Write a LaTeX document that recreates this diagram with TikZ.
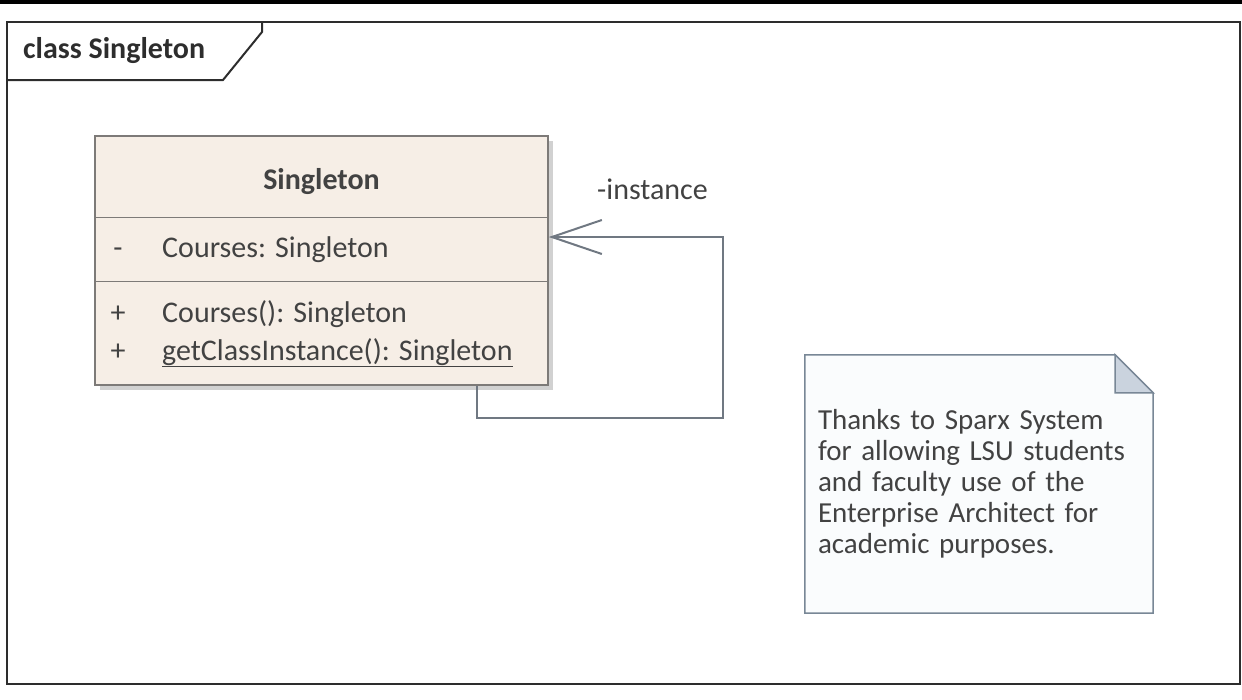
\documentclass[tikz,border=0pt]{standalone}
\usepackage{fontspec}
\setmainfont{Carlito}
\usetikzlibrary{arrows.meta, positioning, calc, shadows, backgrounds}
\definecolor{framegray}{RGB}{45,45,45}
\definecolor{classfill}{RGB}{246,238,230}
\definecolor{classline}{RGB}{125,122,120}
\definecolor{textgray}{RGB}{66,66,66}
\definecolor{linkgray}{RGB}{112,120,130}
\definecolor{notefill}{RGB}{250,252,253}
\definecolor{noteline}{RGB}{120,135,150}
\definecolor{foldfill}{RGB}{202,211,222}
\tikzset{
    framebox/.style={rectangle, draw=framegray, line width=2pt, inner sep=0pt},
    frameline/.style={draw=framegray, line width=2pt},
    title/.style={inner sep=0pt, text=framegray, font=\fontsize{30}{36}\selectfont\bfseries},
    classbox/.style={rectangle, draw=classline, fill=classfill, line width=1.5pt, inner sep=0pt, minimum width=453pt, minimum height=249pt, drop shadow={shadow xshift=5pt, shadow yshift=-5pt, fill=black, opacity=.18}},
    classsep/.style={draw=classline, line width=1.5pt},
    classname/.style={inner sep=0pt, text=textgray, font=\fontsize{30}{36}\selectfont\bfseries},
    member/.style={anchor=base west, inner sep=0pt, text=textgray, font=\fontsize{30}{36}\selectfont},
    assoc/.style={draw=linkgray, line width=2pt, -{Straight Barb[length=50pt, width=34pt]}},
    notetext/.style={rectangle, inner sep=13pt, text width=322pt, minimum width=348pt, minimum height=258pt, align=left, text=textgray, font=\fontsize{29}{31}\selectfont},
    noteoutline/.style={draw=noteline, fill=notefill, line width=1.5pt},
    notefold/.style={draw=noteline, fill=foldfill, line width=1.5pt}
}
\begin{document}
\begin{tikzpicture}[x=1pt, y=-1pt]
    \useasboundingbox (0,0) rectangle (1242,699);
    % Top bar
    \fill[black] (0,0) rectangle (1242,4);
    % Frame
    \node (frame) [framebox, minimum width=1233pt, minimum height=662pt] at (623.5,353) {};
    \node (tabtitle) [title, anchor=base west] at (23,58) {class Singleton};
    \coordinate (tabcorner) at (223,80);
    \coordinate (tabtop) at (262,32);
    \draw[frameline] (frame.west |- tabcorner) -- (tabcorner) -- (tabtop) -- (tabtop |- frame.north);
    % Class
    \node (singleton) [classbox] at (321.5,260.5) {};
    \draw[classsep] ([yshift=-82pt]singleton.north west) -- ([yshift=-82pt]singleton.north east);
    \draw[classsep] ([yshift=-146pt]singleton.north west) -- ([yshift=-146pt]singleton.north east);
    \node (clsname) [classname, anchor=base] at ($(singleton.north)+(0,54)$) {Singleton};
    % Attributes
    \node (attrvis) [member, anchor=base] at (118,257) {-};
    \node (attr) [member] at (162,257) {Courses: Singleton};
    % Operations
    \node (opvis) [member, anchor=base] at (118,322) {+};
    \node (op) [member] at (162,322) {Courses(): Singleton};
    \node (getvis) [member, anchor=base] at (118,360) {+};
    \node (getop) [member] at (162,360) {\underline{getClassInstance(): Singleton}};
    % Self association
    \coordinate (loopbottom) at (477,418);
    \coordinate (loopright) at (723,237);
    \draw[assoc] (loopbottom |- singleton.south) -- (loopbottom) -| (loopright) -- (loopright -| singleton.east);
    \node (rolename) [member] at (597,199) {-instance};
    % Note
    \node (note) [notetext] at (979,484) {Thanks to Sparx System\\for allowing LSU students\\and faculty use of the\\Enterprise Architect for\\academic purposes.};
    \begin{scope}[on background layer]
        \draw[noteoutline] (note.north west) -- ([xshift=-38pt]note.north east) -- ([yshift=-38pt]note.north east) -- (note.south east) -- (note.south west) -- cycle;
    \end{scope}
    \draw[notefold] ([xshift=-38pt]note.north east) -- ([xshift=-38pt, yshift=-38pt]note.north east) -- ([yshift=-38pt]note.north east) -- cycle;
\end{tikzpicture}
\end{document}
